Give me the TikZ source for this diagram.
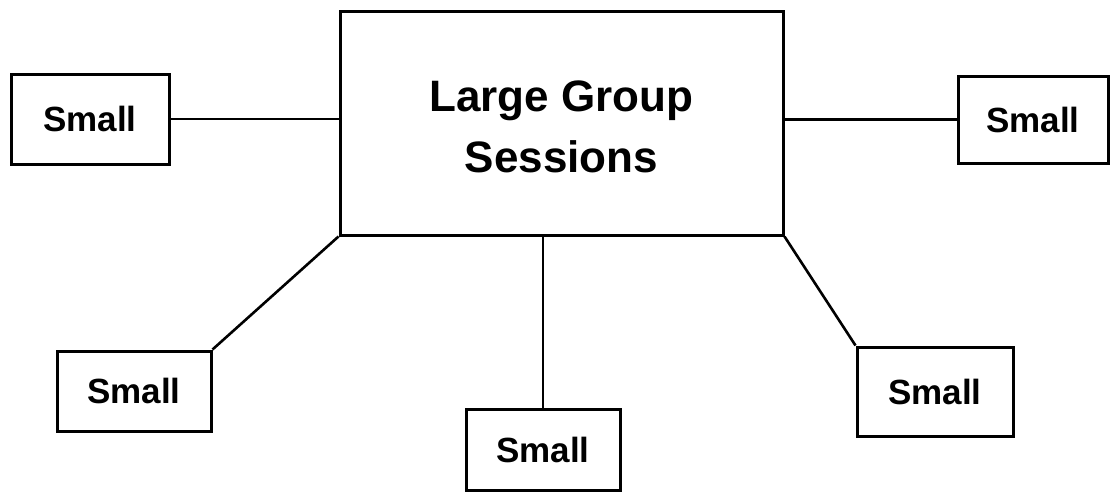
\documentclass[tikz,border=0pt]{standalone}
\usepackage{fontspec}
\setmainfont{Liberation Sans}
\begin{document}
\begin{tikzpicture}[x=1pt,y=-1pt,
  line width=3pt,
  smallbox/.style={draw, inner sep=0pt, font=\fontsize{35}{42}\selectfont\bfseries},
  bigbox/.style={draw, inner sep=0pt},
  conn/.style={line width=2.6pt}]
\useasboundingbox (0,0) rectangle (1110,495);
\node[bigbox, minimum width=443pt, minimum height=223pt,
  label={[name=bigtext, align=center, yshift=-3pt, font=\fontsize{44}{61}\selectfont\bfseries]center:Large Group\\Sessions}] (big) at (561.5,123.5) {};
\node[smallbox, minimum width=158pt, minimum height=90pt] (ls) at (90,119) {Small};
\node[smallbox, minimum width=150pt, minimum height=87pt] (rs) at (1033,119.5) {Small};
\node[smallbox, minimum width=154pt, minimum height=80pt] (bl) at (134,391) {Small};
\node[smallbox, minimum width=154pt, minimum height=81pt] (bc) at (543,449.5) {Small};
\node[smallbox, minimum width=156pt, minimum height=89pt] (br) at (935,391.5) {Small};
\draw[conn] (ls.east) -- (ls.east -| big.west);
\draw[conn] (rs.west) -- (rs.west -| big.east);
\draw[conn] (big.south west) -- (bl.north east);
\draw[conn] (bc.north) -- (bc.north |- big.south);
\draw[conn] (big.south east) -- (br.north west);
\end{tikzpicture}
\end{document}
